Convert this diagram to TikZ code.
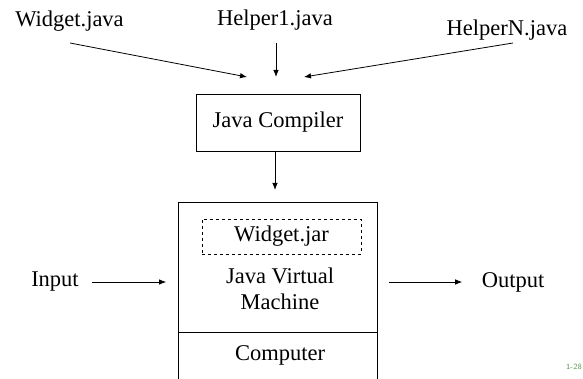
\documentclass[tikz,border=0pt]{standalone}
\usepackage{fontspec}
\setmainfont{Liberation Serif}
\usepackage{xcolor}
\usetikzlibrary{arrows.meta}
\definecolor{slidegreen}{RGB}{90,150,80}
\tikzset{
  lbl/.style={font=\fontsize{22.5}{26}\selectfont, align=center},
  conn/.style={->, line width=0.8pt},
  box/.style={draw, line width=0.8pt}
}
\begin{document}
\begin{tikzpicture}[x=1pt,y=-1pt,>={Latex[length=7pt,width=5.5pt]}]
        \useasboundingbox (0,0) rectangle (583,379);
        \clip (0,0) rectangle (583,379);
        % source files
        \node[lbl] (widget) at (69.5,21) {Widget.java};
        \node[lbl] (helper1) at (275,20) {Helper1.java};
        \node[lbl] (helperN) at (507,30) {HelperN.java};
        \coordinate (wsrc) at (70,43);
        \coordinate (wdst) at (247,77);
        \coordinate (h1src) at (276,43);
        \coordinate (h1dst) at (276,77);
        \coordinate (hnsrc) at (513,43);
        \coordinate (hndst) at (304,77);
        \draw[conn] (wsrc) -- (wdst);
        \draw[conn] (h1src) -- (h1dst);
        \draw[conn] (hnsrc) -- (hndst);
        % compiler
        \node[box, lbl, minimum width=164pt, minimum height=57pt] (compiler) at (278,122.5) {Java Compiler};
        % virtual machine
        \node[box, minimum width=199pt, minimum height=200pt, anchor=north] (jvm) at (278,202) {};
        \draw[conn, shorten >=12pt] (compiler.south -| 275,0) -- (jvm.north -| 275,0);
        \node[draw, dashed, line width=0.6pt, minimum width=159pt, minimum height=35pt, lbl] (jar) at (281.5,236.5) {Widget.jar};
        \node[lbl] (vm) at (280,289) {Java Virtual\\Machine};
        \draw[line width=0.8pt] (jvm.west |- 0,332) -- (jvm.east |- 0,332);
        \node[lbl] (computer) at (280,355) {Computer};
        % input and output
        \node[lbl] (input) at (55,282) {Input};
        \node[lbl] (output) at (513,282) {Output};
        \draw[conn, shorten <=10pt, shorten >=12pt] (input.east) -- (input.east -| jvm.west);
        \draw[conn, shorten <=11pt, shorten >=16pt] (output.west -| jvm.east) -- (output.west);
        \node[font=\sffamily\fontsize{8}{9}\selectfont, text=slidegreen, anchor=east, inner sep=0pt] (page) at (582,367) {1-28};
    \end{tikzpicture}
\end{document}
